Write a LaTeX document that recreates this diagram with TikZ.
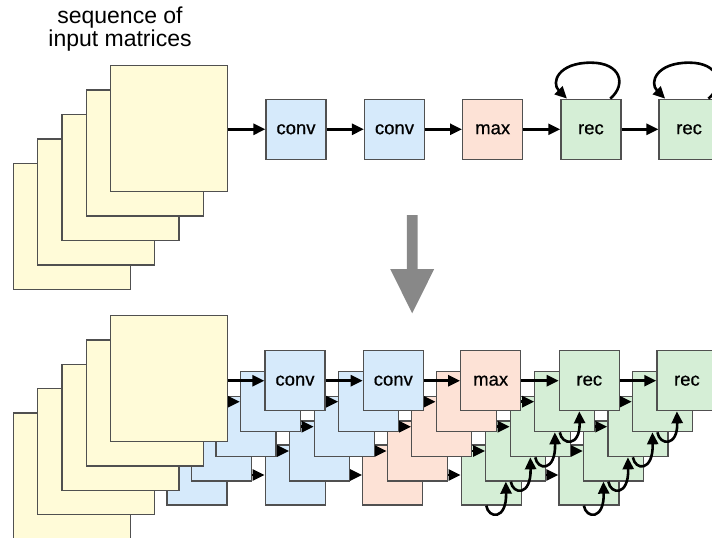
\documentclass[tikz,border=0pt]{standalone}
\usepackage{fontspec}
\setmainfont{Liberation Sans}
\newfontfamily\labfont{Liberation Sans}[FakeBold=0.6]
\usetikzlibrary{arrows.meta,calc}
\definecolor{matY}{RGB}{255,251,216}
\definecolor{convB}{RGB}{214,234,251}
\definecolor{poolR}{RGB}{253,226,214}
\definecolor{recG}{RGB}{213,238,214}
\definecolor{edgeC}{RGB}{80,80,80}
\definecolor{bigA}{RGB}{136,136,136}
\tikzset{
  unit/.style={draw=edgeC, line width=1.3pt, minimum width=60pt, minimum height=60pt,
    inner sep=0pt, font=\labfont\fontsize{18.5}{18.5}\selectfont, anchor=center},
  convbox/.style={unit, fill=convB},
  poolbox/.style={unit, fill=poolR},
  recbox/.style={unit, fill=recG},
  matbox/.style={draw=edgeC, line width=1.3pt, fill=matY, minimum width=117pt,
    minimum height=126pt, inner sep=0pt, anchor=north west},
  flow/.style={line width=2.6pt, -{Triangle[length=12pt,width=11pt]}},
  titletext/.style={font=\fontsize{23}{23}\selectfont, anchor=base, inner sep=0pt},
}
\begin{document}
\begin{tikzpicture}[x=1pt,y=-1pt]
\useasboundingbox (0,0) rectangle (712,538);
\clip (0,0) rectangle (712,538);

% title
\node[titletext] (ttl1) at (120,23.3) {sequence of};
\node[titletext] (ttl2) at (120,46.7) {input matrices};

% ---------- top: folded network ----------
\foreach \L in {4,3,2,1,0} {
  \node[matbox] (tm\L) at ({110-24.3*\L},{65+24.4*\L}) {};
}
\node[convbox] (t1) at (296,129.3) {conv};
\node[convbox] (t2) at (394.5,129.3) {conv};
\node[poolbox] (t3) at (492.7,129.3) {max};
\node[recbox]  (t4) at (590.9,129.3) {rec};
\node[recbox]  (t5) at (689.1,129.3) {rec};
\draw[flow] (tm0.east |- t1.west) -- (t1.west);
\draw[flow] (t1.east) -- (t2.west);
\draw[flow] (t2.east) -- (t3.west);
\draw[flow] (t3.east) -- (t4.west);
\draw[flow] (t4.east) -- (t5.west);
\foreach \r in {t4,t5} {
  \draw[flow] ($(\r.north)+(19.3,0)$)
    .. controls ($(\r.north)+(36,-14)$) and ($(\r.north)+(30,-36)$) .. ($(\r.north)+(0,-36)$)
    .. controls ($(\r.north)+(-33,-36)$) and ($(\r.north)+(-40,-16)$) .. ($(\r.north)+(-24,0)$);
}

% big down arrow
\fill[bigA] (406.9,215) -- (417.5,215) -- (417.5,269) -- (434.2,269) -- (412.2,313.3)
  -- (390.2,269) -- (406.9,269) -- cycle;

% ---------- bottom: unrolled network ----------
\foreach \L/\dx/\dy in {4/-98/94.3, 3/-73.5/70.3, 2/-49/46, 1/-24.5/21, 0/0/0} {
  \node[matbox] (bm\L) at ({110-24.3*\L},{315+24.3*\L}) {};
  \node[convbox] (b\L-1) at ({295+\dx},{380.7+\dy}) {\ifnum\L=0 conv\fi};
  \node[convbox] (b\L-2) at ({393.3+\dx},{380.7+\dy}) {\ifnum\L=0 conv\fi};
  \node[poolbox] (b\L-3) at ({490.7+\dx},{380.7+\dy}) {\ifnum\L=0 max\fi};
  \node[recbox]  (b\L-4) at ({589.3+\dx},{380.7+\dy}) {\ifnum\L=0 rec\fi};
  \node[recbox]  (b\L-5) at ({686.9+\dx},{380.7+\dy}) {\ifnum\L=0 rec\fi};
  \draw[flow] (bm\L.east |- b\L-1.west) -- (b\L-1.west);
  \draw[flow] (b\L-1.east) -- (b\L-2.west);
  \draw[flow] (b\L-2.east) -- (b\L-3.west);
  \draw[flow] (b\L-3.east) -- (b\L-4.west);
  \draw[flow] (b\L-4.east) -- (b\L-5.west);
  \ifnum\L<4
    \pgfmathtruncatemacro\M{\L+1}
    \foreach \c in {4,5} {
      \draw[flow] ($(b\M-\c.south)+(-5,0)$)
        .. controls ($(b\M-\c.south)+(-3,13)$) and ($(b\M-\c.south)+(15.5,15)$)
        .. ($(b\L-\c.south)+(-10,0)$);
    }
  \fi
}
\end{tikzpicture}
\end{document}
